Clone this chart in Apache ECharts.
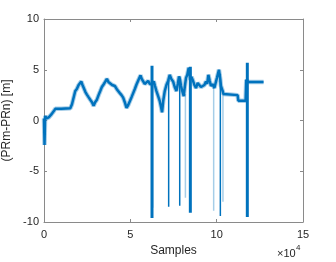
<!DOCTYPE html>
<html>
<head>
<meta charset="utf-8">
<script src="https://cdn.jsdelivr.net/npm/echarts@6/dist/echarts.min.js"></script>
<style>html,body{margin:0;padding:0;background:#fff}#c{width:336px;height:262px}</style>
</head>
<body>
<div id="c"></div>
<script>
// x ticks (samples), y ticks (m)
const xTicks = [0, 50000, 100000, 150000];
const yTicks = [-10, -5, 0, 5, 10];

// main trace [sample, PRm-PRn]
const trace = [
  [0, 0.2], [300, -2.4], [600, 0.1], [770, 0.45], [1500, 0.2], [2700, 0.3], [4240, 0.6], [5590, 0.9],
  [6550, 1.15], [10000, 1.15], [15220, 1.2], [16200, 1.6], [18100, 2.9], [19000, 3.1], [20050, 3.5],
  [21580, 3.85], [22300, 3.5], [22940, 3.45], [24000, 2.8], [24850, 2.55], [25800, 2.3], [26790, 2.05],
  [27800, 1.8], [28720, 1.45], [29600, 1.8], [30630, 2.05], [31600, 2.5],
  [32570, 2.9], [33500, 3.3], [34490, 3.55], [35400, 3.8], [36410, 4.1], [37300, 3.8], [38300, 3.9],
  [39500, 3.5], [41040, 3.4], [42500, 3.0], [43930, 2.7], [44900, 2.5],
  [45850, 2.25], [46800, 1.8], [47780, 1.25], [48700, 1.5], [49710, 1.9], [50700, 2.3], [51650, 2.7],
  [52600, 3.1], [53570, 3.55], [54700, 4.0], [55890, 4.45], [56600, 4.1],
  [57410, 3.95], [58300, 3.6], [59340, 3.5], [60300, 3.9], [61270, 3.6], [62550, 3.6],
  [63580, 3.85], [64300, 3.4], [65120, 2.9], [66100, 2.4], [67050, 1.9], [67700, 1.4], [68380, 0.8],
  [69100, 2.0], [69940, 2.9], [70900, 3.5], [71900, 3.9], [72830, 4.5], [73700, 4.1], [74760, 3.85],
  [75700, 3.3], [76700, 2.9], [77500, 3.6], [78200, 4.35], [78800, 4.0], [79360, 3.4],
  [80100, 2.9], [80920, 2.4], [81600, 3.4], [82250, 4.2], [83000, 4.5], [83810, 5.2], [84750, 4.0],
  [85400, 4.3], [86120, 4.0], [87100, 3.5], [88030, 3.2], [89000, 3.7], [89990, 3.55], [90900, 3.3],
  [91900, 3.2], [92900, 3.5], [93810, 3.85], [94500, 3.6], [95200, 4.5], [96000, 3.9], [96700, 3.4],
  [97600, 3.6], [98660, 3.2], [99400, 3.7], [100170, 4.2], [101320, 5.0], [102130, 4.0],
  [102480, 3.4], [103300, 3.0], [104000, 2.6], [104440, 2.5],
  [112130, 2.5], [112540, 1.95], [116760, 1.95], [117150, 4.0], [117750, 4.0], [118300, 3.8],
  [119070, 3.75], [127160, 3.8]
];

// dropouts [sample, bottom, top]
const thickSpikes = [[62550, -9.6, 5.4], [84750, -9.1, 5.3], [117750, -9.5, 5.7]];
const thinSpikes = [[72200, -8.5, 4.0], [78600, -8.4, 4.3], [102130, -9.4, 4.6]];
const lightSpikes = [[63000, -8.6, 3.8], [81900, -7.6, 2.6], [98260, -8.9, 3.3], [103640, -8.0, 3.0]];

const toSegs = arr => {
  const out = [];
  arr.forEach(s => { out.push([s[0], s[2]], [s[0], s[1]], [s[0], null]); });
  return out;
};

const FONT = 'Liberation Sans';
const AX = '#8a8a8a';
const TXT = '#262626';
const BLUE = '#0072BD';

const chart = echarts.init(document.getElementById('c'), null, {renderer: 'canvas'});
const axX = (pos, labels) => ({
  type: 'value', position: pos, min: xTicks[0], max: xTicks[xTicks.length - 1],
  interval: xTicks[1] - xTicks[0],
  axisLine: {show: true, onZero: false, lineStyle: {color: AX, width: 1}},
  axisTick: {show: true, inside: true, length: 3, lineStyle: {color: AX}},
  axisLabel: {show: labels, color: TXT, fontSize: 11, fontFamily: FONT, margin: 7,
    formatter: v => String(v / 10000)},
  splitLine: {show: false},
  name: labels ? 'Samples' : '', nameLocation: 'middle', nameGap: 22,
  nameTextStyle: {color: TXT, fontSize: 12, fontFamily: FONT}
});
const axY = (pos, labels) => ({
  type: 'value', position: pos, min: yTicks[0], max: yTicks[yTicks.length - 1],
  interval: yTicks[1] - yTicks[0],
  axisLine: {show: true, onZero: false, lineStyle: {color: AX, width: 1}},
  axisTick: {show: true, inside: true, length: 3, lineStyle: {color: AX}},
  axisLabel: {show: labels, color: TXT, fontSize: 11, fontFamily: FONT, margin: 5},
  splitLine: {show: false},
  name: labels ? '(PRm-PRn) [m]' : '', nameLocation: 'middle', nameGap: 25, nameRotate: 90,
  nameTextStyle: {color: TXT, fontSize: 12, fontFamily: FONT}
});

const seg = (data, w, op) => ({type: 'line', data: toSegs(data), showSymbol: false, connectNulls: false,
  lineStyle: {color: BLUE, width: w, opacity: op}});

chart.setOption({
  animation: false,
  grid: {left: 44, right: 33, top: 19, bottom: 40, containLabel: false, outerBoundsMode: 'none'},
  xAxis: [axX('bottom', true), axX('top', false)],
  yAxis: [axY('left', true), axY('right', false)],
  series: [
    seg(lightSpikes, 1.5, 0.35),
    {type: 'line', data: trace, showSymbol: false,
      lineStyle: {color: BLUE, width: 4.5, opacity: 0.35}},
    {type: 'line', data: trace, showSymbol: false,
      lineStyle: {color: BLUE, width: 2.5}},
    seg(thinSpikes, 1.5, 1),
    seg(thickSpikes, 3, 1)
  ],
  graphic: [
    {type: 'text', left: 277, top: 248, style: {text: '×10', fill: TXT, font: '11px ' + FONT}},
    {type: 'text', left: 296, top: 244, style: {text: '4', fill: TXT, font: '8px ' + FONT}}
  ]
});
</script>
</body>
</html>
